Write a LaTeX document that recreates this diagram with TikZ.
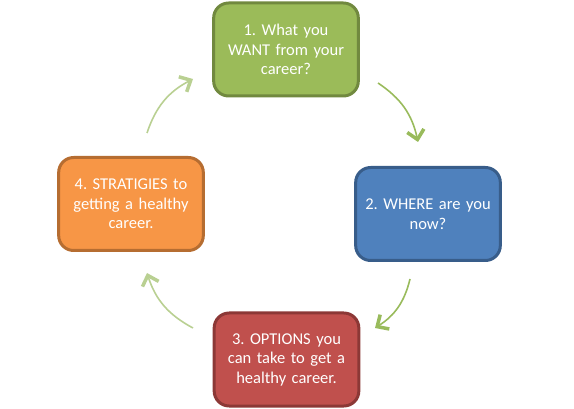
\documentclass[tikz,border=0pt]{standalone}
\usepackage{fontspec}
\setmainfont{Carlito}
\usetikzlibrary{arrows.meta}
\definecolor{boxgreen}{HTML}{9BBB59}
\definecolor{edgegreen}{HTML}{71893F}
\definecolor{boxblue}{HTML}{4F81BD}
\definecolor{edgeblue}{HTML}{385D8A}
\definecolor{boxred}{HTML}{C0504D}
\definecolor{edgered}{HTML}{8C3836}
\definecolor{boxorange}{HTML}{F79646}
\definecolor{edgeorange}{HTML}{B66D31}
\definecolor{arrowdark}{HTML}{99BB5C}
\definecolor{arrowlight}{HTML}{B9D092}
\frenchspacing
\begin{document}
\begin{tikzpicture}[x=1pt,y=1pt,
  stagebox/.style={draw, line width=3pt, rounded corners=15pt, minimum width=143pt,
    minimum height=93pt, text width=138pt, align=center, text=white,
    font=\fontsize{16.5}{19.5}\selectfont},
  cycle/.style={line width=1.6pt, bend left=22,
    -{Straight Barb[length=9pt,width=17pt,line width=3.5pt]}}]
\useasboundingbox (0,0) rectangle (574,-409);
% the four stages
\node[stagebox, fill=boxgreen, draw=edgegreen] (want) at (286,-49.5) {1. What you\\WANT from your\\career?};
\node[stagebox, fill=boxblue, draw=edgeblue] (where) at (428,-214) {2. WHERE are you\\now?};
\node[stagebox, fill=boxred, draw=edgered] (options) at (286.5,-359.5) {3. OPTIONS you\\can take to get a\\healthy career.};
\node[stagebox, fill=boxorange, draw=edgeorange] (strategies) at (131,-204) {4. STRATIGIES to\\getting a healthy\\career.};
% arrow ends
\coordinate (a1) at (378,-83);
\coordinate (b1) at (418,-142);
\coordinate (a2) at (410,-279);
\coordinate (b2) at (375,-328);
\coordinate (a3) at (193,-328);
\coordinate (b3) at (147,-273);
\coordinate (a4) at (147,-133);
\coordinate (b4) at (193,-79);
\draw[cycle, arrowdark] (a1) to (b1);
\draw[cycle, arrowdark] (a2) to (b2);
\draw[cycle, arrowlight] (a3) to (b3);
\draw[cycle, arrowlight] (a4) to (b4);
\end{tikzpicture}
\end{document}
